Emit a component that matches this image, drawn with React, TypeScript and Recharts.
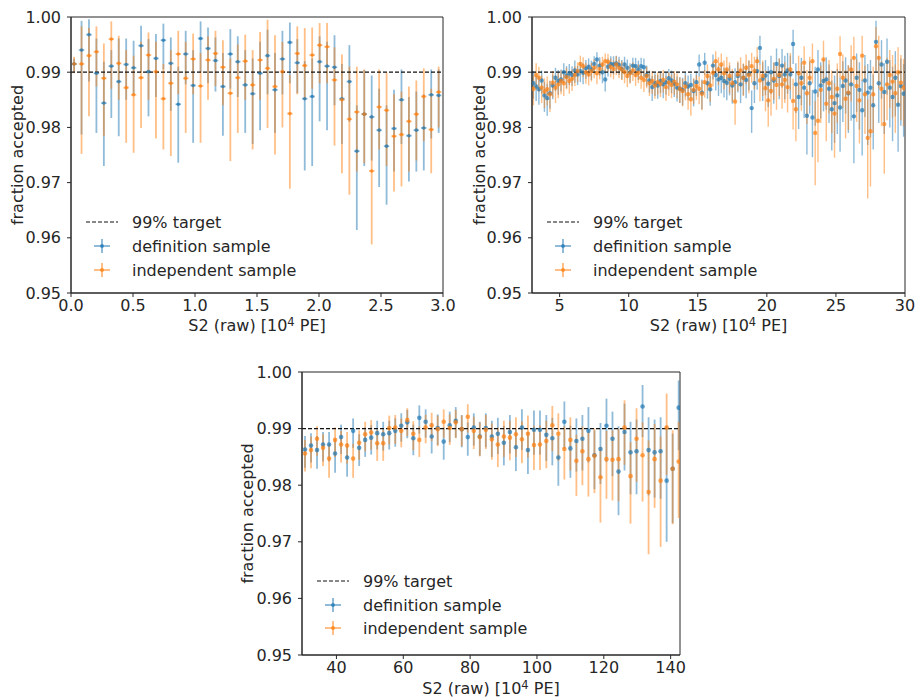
import { ScatterChart, Scatter, XAxis, YAxis, ErrorBar, ReferenceLine, ReferenceArea } from 'recharts';

const FONT = '"DejaVu Sans", sans-serif';
const INK = '#262626';
const BLUE_LINE = 'rgba(31,119,180,0.5)';
const BLUE_DOT = 'rgba(31,119,180,0.7)';
const ORANGE_LINE = 'rgba(255,127,14,0.5)';
const ORANGE_DOT = 'rgba(255,127,14,0.7)';
const FS = 16;

// shared y axis
const yTicks = [0.95, 0.96, 0.97, 0.98, 0.99, 1.0];
const target = 0.99;
const legendLabels = ['99% target', 'definition sample', 'independent sample'];

// ---- panel 1 : S2 0 - 3 (x10^4 PE) ----
const p1Ticks = [0, 0.5, 1, 1.5, 2, 2.5, 3];
const p1X = [
  0.025, 0.085, 0.145, 0.205, 0.265, 0.325, 0.385, 0.445, 0.505, 0.565,
  0.625, 0.685, 0.745, 0.805, 0.865, 0.925, 0.985, 1.045, 1.105, 1.165,
  1.225, 1.285, 1.345, 1.405, 1.465, 1.525, 1.585, 1.645, 1.705, 1.765,
  1.825, 1.885, 1.945, 2.005, 2.065, 2.125, 2.185, 2.245, 2.305, 2.365,
  2.425, 2.485, 2.545, 2.605, 2.665, 2.725, 2.785, 2.845, 2.905, 2.965,
];
const p1Def = [
  0.9915, 0.9940, 0.9968, 0.9898, 0.9844, 0.9911, 0.9883, 0.9914, 0.9908, 0.9948,
  0.9901, 0.9925, 0.9958, 0.9916, 0.9842, 0.9933, 0.9876, 0.9961, 0.9943, 0.9921,
  0.9874, 0.9933, 0.9919, 0.9877, 0.9861, 0.9898, 0.9930, 0.9868, 0.9924, 0.9954,
  0.9917, 0.9852, 0.9856, 0.9919, 0.9911, 0.9909, 0.9852, 0.9883, 0.9757, 0.9824,
  0.9819, 0.9795, 0.9766, 0.9798, 0.9850, 0.9785, 0.9795, 0.9799, 0.9859, 0.9858,
];
// errors in units of 1e-4
const p1DefUp = [
  10, 53, 28, 63, 75, 29, 78, 47, 49, 36, 59, 44, 30, 47, 68, 42, 64, 31, 38, 42,
  61, 45, 46, 63, 64, 57, 47, 67, 51, 36, 43, 68, 69, 46, 44, 58, 63, 66, 83, 80,
  75, 75, 74, 70, 55, 70, 70, 61, 46, 47,
];
const p1DefDn = [
  15, 153, 85, 108, 114, 94, 99, 64, 48, 48, 81, 70, 53, 86, 106, 55, 104, 61, 63, 56,
  89, 63, 64, 87, 91, 103, 70, 78, 64, 74, 55, 130, 126, 108, 116, 69, 82, 73, 143, 94,
  79, 103, 106, 78, 80, 83, 75, 77, 79, 68,
];
const p1Ind = [
  0.9915, 0.9915, 0.9930, 0.9937, 0.9889, 0.9960, 0.9916, 0.9872, 0.9859, 0.9890,
  0.9931, 0.9901, 0.9852, 0.9880, 0.9933, 0.9889, 0.9924, 0.9875, 0.9922, 0.9934,
  0.9909, 0.9862, 0.9890, 0.9920, 0.9877, 0.9922, 0.9907, 0.9874, 0.9901, 0.9825,
  0.9934, 0.9912, 0.9931, 0.9949, 0.9946, 0.9886, 0.9850, 0.9815, 0.9828, 0.9824,
  0.9721, 0.9837, 0.9831, 0.9784, 0.9787, 0.9811, 0.9824, 0.9856, 0.9796, 0.9864,
];
const p1IndUp = [
  13, 68, 50, 46, 63, 32, 50, 68, 71, 65, 41, 54, 63, 60, 42, 66, 46, 60, 43, 41,
  49, 63, 60, 48, 63, 51, 88, 93, 54, 70, 49, 68, 50, 40, 43, 59, 82, 95, 82, 81,
  99, 68, 68, 76, 78, 63, 61, 51, 74, 46,
];
const p1IndDn = [
  17, 163, 110, 63, 105, 90, 66, 100, 105, 91, 81, 121, 92, 132, 73, 99, 64, 103, 72, 59,
  69, 123, 100, 70, 117, 72, 108, 123, 101, 136, 74, 62, 61, 69, 66, 119, 133, 137, 108, 89,
  133, 77, 101, 100, 94, 91, 84, 81, 79, 64,
];
const p1HalfBin = 0.022;

// ---- panel 2 : S2 3 - 30 ----
const p2Ticks = [5, 10, 15, 20, 25, 30];
const p2X = [
  3.1, 3.3, 3.5, 3.7, 3.9, 4.1, 4.3, 4.5, 4.7, 4.9,
  5.1, 5.3, 5.5, 5.7, 5.9, 6.1, 6.3, 6.5, 6.7, 6.9,
  7.1, 7.3, 7.5, 7.7, 7.9, 8.1, 8.3, 8.5, 8.7, 8.9,
  9.1, 9.3, 9.5, 9.7, 9.9, 10.1, 10.3, 10.5, 10.7, 10.9,
  11.1, 11.3, 11.5, 11.7, 11.9, 12.1, 12.3, 12.5, 12.7, 12.9,
  13.1, 13.3, 13.5, 13.7, 13.9, 14.1, 14.3, 14.5, 14.7, 14.9,
  15.1, 15.3, 15.5, 15.7, 15.9, 16.1, 16.3, 16.5, 16.7, 16.9,
  17.1, 17.3, 17.5, 17.7, 17.9, 18.1, 18.3, 18.5, 18.7, 18.9,
  19.1, 19.3, 19.5, 19.7, 19.9, 20.1, 20.3, 20.5, 20.7, 20.9,
  21.1, 21.3, 21.5, 21.7, 21.9, 22.1, 22.3, 22.5, 22.7, 22.9,
  23.1, 23.3, 23.5, 23.7, 23.9, 24.1, 24.3, 24.5, 24.7, 24.9,
  25.1, 25.3, 25.5, 25.7, 25.9, 26.1, 26.3, 26.5, 26.7, 26.9,
  27.1, 27.3, 27.5, 27.7, 27.9, 28.1, 28.3, 28.5, 28.7, 28.9,
  29.1, 29.3, 29.5, 29.7, 29.9,
];
const p2Def = [
  0.9880, 0.9874, 0.9869, 0.9885, 0.9858, 0.9853, 0.9862, 0.9876, 0.9890, 0.9884,
  0.9887, 0.9900, 0.9893, 0.9898, 0.9895, 0.9903, 0.9896, 0.9902, 0.9899, 0.9907,
  0.9910, 0.9905, 0.9915, 0.9923, 0.9912, 0.9900, 0.9887, 0.9910, 0.9915, 0.9914,
  0.9916, 0.9913, 0.9906, 0.9914, 0.9908, 0.9900, 0.9912, 0.9911, 0.9905, 0.9911,
  0.9909, 0.9895, 0.9885, 0.9873, 0.9880, 0.9876, 0.9884, 0.9878, 0.9882, 0.9889,
  0.9885, 0.9879, 0.9872, 0.9870, 0.9868, 0.9880, 0.9874, 0.9877, 0.9866, 0.9882,
  0.9914, 0.9863, 0.9917, 0.9880, 0.9869, 0.9912, 0.9895, 0.9887, 0.9890, 0.9884,
  0.9881, 0.9888, 0.9876, 0.9882, 0.9893, 0.9878, 0.9890, 0.9886, 0.9897, 0.9835,
  0.9880, 0.9902, 0.9944, 0.9888, 0.9894, 0.9879, 0.9900, 0.9885, 0.9915, 0.9893,
  0.9912, 0.9896, 0.9903, 0.9896, 0.9951, 0.9878, 0.9855, 0.9890, 0.9872, 0.9821,
  0.9880, 0.9818, 0.9865, 0.9905, 0.9876, 0.9884, 0.9887, 0.9870, 0.9833, 0.9844,
  0.9858, 0.9836, 0.9875, 0.9885, 0.9862, 0.9878, 0.9820, 0.9890, 0.9868, 0.9831,
  0.9885, 0.9863, 0.9872, 0.9840, 0.9955, 0.9880, 0.9914, 0.9864, 0.9919, 0.9872,
  0.9855, 0.9890, 0.9841, 0.9875, 0.9861,
];
const p2DefUp = [
  22, 20, 22, 18, 24, 26, 22, 20, 18, 20, 18, 16, 18, 17, 16, 18, 15, 16, 17, 15,
  15, 16, 14, 13, 15, 17, 18, 15, 14, 15, 14, 15, 16, 14, 15, 16, 14, 15, 16, 15,
  16, 17, 18, 20, 18, 19, 18, 20, 18, 17, 18, 19, 20, 21, 22, 19, 20, 20, 22, 20,
  18, 24, 18, 22, 24, 20, 22, 24, 22, 24, 25, 24, 26, 25, 24, 27, 25, 26, 24, 32,
  28, 26, 22, 30, 28, 32, 30, 32, 28, 32, 30, 34, 32, 34, 26, 38, 42, 36, 40, 48,
  40, 50, 45, 35, 42, 40, 40, 44, 52, 50, 48, 55, 45, 42, 50, 46, 58, 44, 50, 56,
  46, 52, 50, 56, 38, 50, 44, 52, 42, 50, 55, 48, 58, 50, 54,
];
const p2DefDn = [
  28, 26, 28, 24, 30, 32, 28, 25, 24, 25, 22, 20, 22, 21, 20, 22, 19, 20, 21, 19,
  18, 19, 17, 16, 18, 20, 22, 18, 17, 18, 17, 18, 19, 17, 18, 19, 17, 18, 19, 18,
  20, 21, 22, 25, 23, 24, 22, 25, 23, 21, 23, 24, 25, 26, 28, 24, 25, 25, 28, 25,
  22, 30, 22, 28, 30, 25, 28, 30, 28, 30, 32, 30, 33, 32, 30, 34, 32, 33, 30, 45,
  36, 34, 30, 40, 36, 42, 40, 42, 36, 42, 40, 45, 42, 45, 36, 52, 58, 50, 55, 70,
  55, 72, 62, 50, 60, 55, 55, 62, 75, 72, 70, 80, 65, 60, 72, 66, 85, 62, 72, 82,
  66, 95, 90, 80, 55, 72, 62, 76, 60, 72, 80, 70, 85, 72, 78,
];
const p2Ind = [
  0.9870, 0.9895, 0.9890, 0.9872, 0.9865, 0.9869, 0.9860, 0.9881, 0.9872, 0.9878,
  0.9884, 0.9880, 0.9891, 0.9884, 0.9888, 0.9895, 0.9902, 0.9915, 0.9911, 0.9900,
  0.9896, 0.9902, 0.9908, 0.9898, 0.9906, 0.9914, 0.9920, 0.9919, 0.9910, 0.9906,
  0.9914, 0.9908, 0.9905, 0.9900, 0.9893, 0.9898, 0.9903, 0.9895, 0.9899, 0.9890,
  0.9886, 0.9893, 0.9880, 0.9884, 0.9876, 0.9882, 0.9879, 0.9886, 0.9873, 0.9881,
  0.9877, 0.9883, 0.9878, 0.9870, 0.9866, 0.9874, 0.9860, 0.9851, 0.9868, 0.9875,
  0.9870, 0.9861, 0.9882, 0.9893, 0.9876, 0.9899, 0.9920, 0.9905, 0.9914, 0.9898,
  0.9905, 0.9893, 0.9880, 0.9847, 0.9896, 0.9903, 0.9890, 0.9908, 0.9895, 0.9911,
  0.9902, 0.9920, 0.9885, 0.9893, 0.9871, 0.9849, 0.9866, 0.9888, 0.9877, 0.9895,
  0.9878, 0.9886, 0.9873, 0.9905, 0.9848, 0.9833, 0.9898, 0.9880, 0.9917, 0.9862,
  0.9890, 0.9920, 0.9790, 0.9812, 0.9868, 0.9923, 0.9843, 0.9880, 0.9855, 0.9825,
  0.9870, 0.9933, 0.9890, 0.9852, 0.9863, 0.9905, 0.9926, 0.9875, 0.9849, 0.9930,
  0.9860, 0.9781, 0.9793, 0.9860, 0.9947, 0.9926, 0.9870, 0.9806, 0.9878, 0.9895,
  0.9883, 0.9862, 0.9900, 0.9881, 0.9872,
];
const p2IndUp = [
  24, 21, 20, 22, 24, 23, 25, 21, 22, 20, 19, 18, 17, 18, 17, 16, 16, 15, 16, 17,
  16, 15, 15, 16, 15, 14, 14, 14, 15, 15, 15, 15, 15, 16, 16, 15, 15, 16, 15, 16,
  17, 17, 18, 18, 19, 18, 19, 18, 20, 19, 19, 19, 20, 21, 22, 20, 22, 24, 21, 20,
  22, 24, 22, 21, 24, 20, 18, 22, 20, 23, 23, 25, 26, 32, 24, 24, 26, 24, 26, 24,
  26, 25, 30, 28, 32, 36, 34, 30, 34, 30, 34, 32, 36, 30, 40, 42, 32, 38, 30, 42,
  38, 32, 58, 52, 44, 34, 50, 42, 48, 55, 46, 32, 42, 52, 50, 44, 38, 48, 55, 36,
  52, 70, 66, 50, 35, 40, 50, 60, 48, 45, 48, 52, 45, 50, 52,
];
const p2IndDn = [
  30, 27, 26, 28, 30, 29, 32, 27, 28, 25, 24, 23, 22, 23, 22, 20, 20, 19, 20, 21,
  20, 19, 19, 20, 19, 18, 18, 18, 19, 19, 19, 19, 19, 20, 20, 19, 19, 20, 19, 20,
  22, 22, 23, 23, 24, 23, 24, 23, 25, 24, 24, 24, 25, 26, 28, 25, 28, 30, 26, 25,
  28, 30, 28, 26, 30, 25, 22, 28, 25, 29, 29, 31, 33, 42, 30, 30, 33, 30, 33, 30,
  33, 31, 38, 36, 42, 48, 45, 38, 45, 38, 44, 42, 46, 38, 52, 58, 40, 50, 38, 56,
  50, 40, 95, 75, 60, 45, 68, 55, 65, 80, 62, 42, 55, 72, 68, 58, 48, 65, 78, 46,
  72, 110, 100, 70, 45, 55, 68, 90, 65, 60, 65, 72, 60, 68, 70,
];

// ---- panel 3 : S2 30 - 143 ----
const p3Ticks = [40, 60, 80, 100, 120, 140];
const p3X = [
  30.6, 32.4, 34.2, 36.0, 37.8, 39.6, 41.4, 43.2, 45.0, 46.8,
  48.6, 50.4, 52.2, 54.0, 55.8, 57.6, 59.4, 61.2, 63.0, 64.8,
  66.7, 68.5, 70.3, 72.1, 73.9, 75.7, 77.5, 79.3, 81.1, 82.9,
  84.7, 86.5, 88.3, 90.1, 91.9, 93.7, 95.5, 97.3, 99.1, 100.9,
  102.8, 104.6, 106.4, 108.2, 110.0, 111.8, 113.6, 115.4, 117.2, 119.0,
  120.8, 122.6, 124.4, 126.2, 128.0, 129.8, 131.6, 133.4, 135.2, 137.0,
  138.8, 140.6, 142.4,
];
const p3Def = [
  0.9863, 0.9870, 0.9862, 0.9872, 0.9872, 0.9856, 0.9885, 0.9849, 0.9896, 0.9866,
  0.9880, 0.9884, 0.9892, 0.9890, 0.9892, 0.9896, 0.9905, 0.9911, 0.9883, 0.9919,
  0.9912, 0.9886, 0.9901, 0.9877, 0.9906, 0.9914, 0.9899, 0.9885, 0.9902, 0.9886,
  0.9901, 0.9886, 0.9891, 0.9875, 0.9894, 0.9867, 0.9902, 0.9862, 0.9898, 0.9898,
  0.9889, 0.9883, 0.9849, 0.9912, 0.9865, 0.9878, 0.9882, 0.9896, 0.9853, 0.9864,
  0.9905, 0.9882, 0.9824, 0.9894, 0.9858, 0.9860, 0.9939, 0.9862, 0.9858, 0.9860,
  0.9808, 0.9829, 0.9937,
];
const p3DefUp = [
  24, 22, 25, 22, 22, 25, 22, 25, 22, 24, 22, 22, 22, 22, 22, 22, 22, 22, 24, 22,
  22, 24, 24, 25, 24, 24, 25, 26, 25, 26, 26, 28, 28, 30, 30, 32, 32, 32, 34, 34,
  35, 36, 38, 36, 40, 40, 42, 42, 44, 46, 48, 48, 80, 50, 54, 56, 38, 58, 58, 60,
  97, 62, 48,
];
const p3DefDn = [
  32, 30, 33, 30, 30, 34, 30, 34, 30, 32, 30, 30, 29, 29, 29, 28, 28, 28, 30, 28,
  28, 30, 30, 32, 30, 30, 32, 33, 32, 34, 34, 36, 36, 40, 38, 42, 40, 42, 44, 44,
  46, 48, 50, 48, 52, 54, 56, 56, 60, 62, 64, 66, 77, 68, 74, 76, 54, 80, 80, 84,
  108, 96, 75,
];
const p3Ind = [
  0.9856, 0.9862, 0.9882, 0.9866, 0.9847, 0.9880, 0.9872, 0.9870, 0.9847, 0.9875,
  0.9890, 0.9893, 0.9874, 0.9874, 0.9901, 0.9902, 0.9896, 0.9915, 0.9891, 0.9880,
  0.9902, 0.9906, 0.9899, 0.9912, 0.9901, 0.9911, 0.9899, 0.9921, 0.9896, 0.9885,
  0.9898, 0.9881, 0.9872, 0.9886, 0.9884, 0.9890, 0.9881, 0.9891, 0.9871, 0.9872,
  0.9878, 0.9906, 0.9891, 0.9864, 0.9880, 0.9843, 0.9860, 0.9846, 0.9852, 0.9814,
  0.9846, 0.9845, 0.9846, 0.9902, 0.9816, 0.9882, 0.9853, 0.9788, 0.9846, 0.9808,
  0.9902, 0.9829, 0.9842,
];
const p3IndUp = [
  24, 24, 22, 24, 26, 22, 24, 24, 26, 22, 22, 22, 24, 24, 22, 22, 22, 21, 22, 24,
  22, 22, 24, 22, 24, 22, 24, 22, 25, 26, 26, 28, 30, 28, 30, 30, 32, 32, 34, 34,
  36, 34, 36, 40, 40, 46, 44, 48, 48, 54, 50, 52, 54, 48, 60, 54, 58, 91, 62, 78,
  60, 68, 70,
];
const p3IndDn = [
  32, 32, 30, 32, 34, 30, 32, 32, 34, 30, 30, 30, 31, 31, 29, 29, 29, 28, 29, 30,
  28, 28, 30, 28, 30, 28, 30, 28, 32, 34, 34, 36, 40, 36, 40, 40, 42, 42, 44, 45,
  48, 46, 48, 54, 54, 62, 60, 66, 66, 80, 70, 72, 74, 66, 84, 76, 82, 110, 86, 117,
  84, 98, 100,
];

type Pt = { x: number; y: number; up: number; dn: number };

const build = (xs: number[], ys: number[], up: number[], dn: number[]): Pt[] =>
  xs.map((x, i) => ({ x, y: ys[i], up: up[i] / 1e4, dn: dn[i] / 1e4 }));

const yErr = (p: any) => {
  const e = p && p.payload ? p.payload : p;
  return [e.dn, e.up];
};

const dot = (fill: string, r: number) => (props: any) =>
  <circle cx={props.cx} cy={props.cy} r={r} fill={fill} />;

const tickStyle = { fill: INK, fontSize: FS, fontFamily: FONT };

const LegendBlock = ({ rows }: { rows: number[] }) => {
  const lineX1 = 78;
  const lineX2 = 110;
  const iconX = 94;
  const textX = 124;
  const icon = (y: number, line: string, fill: string) => (
    <g>
      <line x1={iconX} x2={iconX} y1={y - 7} y2={y + 7} stroke={line} strokeWidth={2} />
      <line x1={iconX - 8} x2={iconX + 8} y1={y} y2={y} stroke={line} strokeWidth={2} />
      <circle cx={iconX} cy={y} r={2} fill={fill} />
    </g>
  );
  return (
    <g fontFamily={FONT} fontSize={FS} fill={INK}>
      <line x1={lineX1} x2={lineX2} y1={rows[0]} y2={rows[0]} stroke="#111" strokeWidth={1.2} strokeDasharray="4 2" />
      <text x={textX} y={rows[0] + 6}>{legendLabels[0]}</text>
      {icon(rows[1], BLUE_LINE, BLUE_DOT)}
      <text x={textX} y={rows[1] + 6}>{legendLabels[1]}</text>
      {icon(rows[2], ORANGE_LINE, ORANGE_DOT)}
      <text x={textX} y={rows[2] + 6}>{legendLabels[2]}</text>
    </g>
  );
};

type PanelProps = {
  left: number;
  top: number;
  width: number;
  height: number;
  xDomain: [number, number];
  xTicks: number[];
  xFmt: (v: number) => string;
  def: Pt[];
  ind: Pt[];
  halfBin?: number;
  barW: number;
  dotR: number;
  xLabelY: number;
  yLabelX: number;
  legendRows: number[];
};

const RIGHT = 24;

const Panel = (p: PanelProps) => {
  const plotW = p.width - 63 - RIGHT;
  const plotH = p.height - 9 - 50;
  const cx = 63 + plotW / 2;
  const cy = 9 + plotH / 2;
  return (
    <div style={{ position: 'absolute', left: p.left, top: p.top }}>
      <ScatterChart width={p.width} height={p.height} margin={{ top: 9, right: RIGHT, bottom: 20, left: 0 }}>
        <XAxis
          type="number"
          dataKey="x"
          domain={p.xDomain}
          ticks={p.xTicks}
          interval={0}
          tickFormatter={p.xFmt}
          allowDataOverflow
          height={30}
          tickSize={4}
          tickMargin={3}
          stroke={INK}
          tick={tickStyle}
        />
        <YAxis
          type="number"
          dataKey="y"
          domain={[0.95, 1]}
          ticks={yTicks}
          interval={0}
          tickFormatter={(v: number) => v.toFixed(2)}
          allowDataOverflow
          width={63}
          tickSize={4}
          tickMargin={6}
          stroke={INK}
          tick={tickStyle}
        />
        <ReferenceArea x1={p.xDomain[0]} x2={p.xDomain[1]} y1={0.95} y2={1} fill="none" stroke={INK} strokeWidth={1} />
        <Scatter data={p.def} shape={dot(BLUE_DOT, p.dotR)} isAnimationActive={false}>
          <ErrorBar dataKey={yErr} direction="y" width={0} stroke={BLUE_LINE} strokeWidth={p.barW} isAnimationActive={false} />
          {p.halfBin ? (
            <ErrorBar dataKey={() => p.halfBin} direction="x" width={0} stroke={BLUE_LINE} strokeWidth={p.barW} isAnimationActive={false} />
          ) : null}
        </Scatter>
        <Scatter data={p.ind} shape={dot(ORANGE_DOT, p.dotR)} isAnimationActive={false}>
          <ErrorBar dataKey={yErr} direction="y" width={0} stroke={ORANGE_LINE} strokeWidth={p.barW} isAnimationActive={false} />
          {p.halfBin ? (
            <ErrorBar dataKey={() => p.halfBin} direction="x" width={0} stroke={ORANGE_LINE} strokeWidth={p.barW} isAnimationActive={false} />
          ) : null}
        </Scatter>
        <ReferenceLine y={target} stroke="#111" strokeWidth={1.2} strokeDasharray="4 2" />
        <LegendBlock rows={p.legendRows} />
        <text x={cx} y={p.xLabelY} textAnchor="middle" fontFamily={FONT} fontSize={FS} fill={INK}>
          <tspan>S2 (raw) [10</tspan>
          <tspan dy={-5} fontSize={11.5}>4</tspan>
          <tspan dy={5}> PE]</tspan>
        </text>
        <text
          x={p.yLabelX}
          y={cy}
          textAnchor="middle"
          fontFamily={FONT}
          fontSize={FS}
          fill={INK}
          transform={`rotate(-90 ${p.yLabelX} ${cy})`}
        >
          fraction accepted
        </text>
      </ScatterChart>
    </div>
  );
};

const App = () => {
  const d1 = build(p1X, p1Def, p1DefUp, p1DefDn);
  const i1 = build(p1X, p1Ind, p1IndUp, p1IndDn);
  const d2 = build(p2X, p2Def, p2DefUp, p2DefDn);
  const i2 = build(p2X, p2Ind, p2IndUp, p2IndDn);
  const d3 = build(p3X, p3Def, p3DefUp, p3DefDn);
  const i3 = build(p3X, p3Ind, p3IndUp, p3IndDn);

  return (
    <div style={{ position: 'fixed', left: 0, top: 0, width: 921, height: 699, overflow: 'hidden', background: '#fff' }}>
      <Panel
        left={8} top={8} width={459} height={335}
        xDomain={[0, 3]} xTicks={p1Ticks} xFmt={(v) => v.toFixed(1)}
        def={d1} ind={i1} halfBin={p1HalfBin} barW={1.8} dotR={1.8}
        xLabelY={323} yLabelX={15} legendRows={[214, 238, 262]}
      />
      <Panel
        left={469} top={8} width={460} height={335}
        xDomain={[3, 30]} xTicks={p2Ticks} xFmt={(v) => String(v)}
        def={d2} ind={i2} barW={1.4} dotR={2.2}
        xLabelY={323} yLabelX={16} legendRows={[214, 238, 262]}
      />
      <Panel
        left={239} top={363} width={465} height={342}
        xDomain={[29.7, 142.8]} xTicks={p3Ticks} xFmt={(v) => String(v)}
        def={d3} ind={i3} barW={1.8} dotR={2.3}
        xLabelY={331} yLabelX={14} legendRows={[218, 242, 265]}
      />
    </div>
  );
};

export default App;
